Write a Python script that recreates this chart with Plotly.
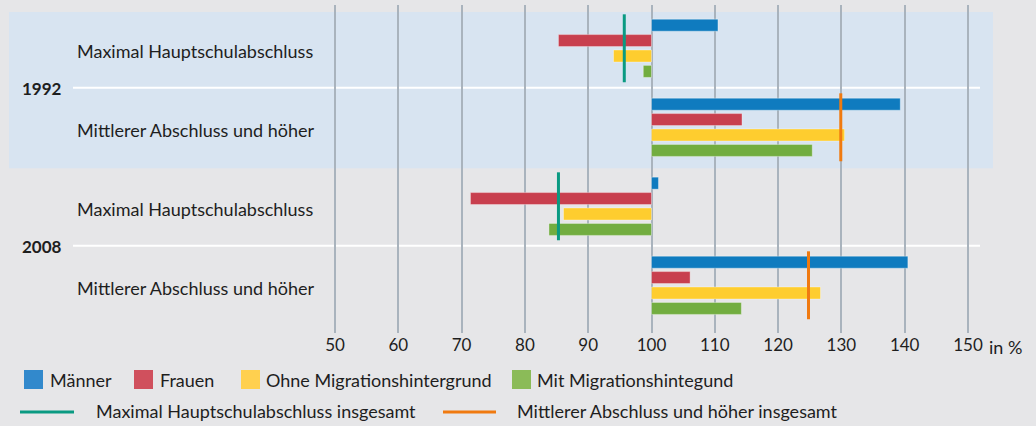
import plotly.graph_objects as go

# ---------------- data ----------------
categories = ["1992 Max", "1992 Mitt", "2008 Max", "2008 Mitt"]
category_labels = ["Maximal Hauptschulabschluss", "Mittlerer Abschluss und höher",
                   "Maximal Hauptschulabschluss", "Mittlerer Abschluss und höher"]
years = ["1992", "2008"]
series_names = ["Männer", "Frauen", "Ohne Migrationshintergrund", "Mit Migrationshintegund"]
maenner = [110.5, 139.3, 101.1, 140.5]
frauen = [85.3, 114.3, 71.4, 106.1]
ohne_migration = [94.0, 130.5, 86.1, 126.7]
mit_migration = [98.7, 125.4, 83.8, 114.2]
insgesamt_hauptschule = [95.7, 85.3]   # 1992, 2008
insgesamt_mittlerer = [129.9, 124.8]   # 1992, 2008
line_names = ["Maximal Hauptschulabschluss insgesamt", "Mittlerer Abschluss und höher insgesamt"]
x_ticks = [50, 60, 70, 80, 90, 100, 110, 120, 130, 140, 150]
baseline = 100

# ---------------- style ----------------
W, H = 1036, 426
PT, PB = 5, 333          # plot area top / bottom in px
FONT = "Lato"
TXT = "#1e1e1e"
BG = "#e6e6e8"
BAND = "#d8e4f1"
GRID = "#a9b3bd"
bar_colors = ["#0f7bbf", "#c83f4e", "#fecd2f", "#72ad40"]
legend_colors = ["#3289cc", "#d0505d", "#ffd04f", "#8bbb58"]
line_colors = ["#0a9a82", "#f07a10"]

def px_x(p):
    return p / W

def px_y(p):
    return (PB - p) / (PB - PT)

fig = go.Figure()
for name, vals, col in zip(series_names, [maenner, frauen, ohne_migration, mit_migration], bar_colors):
    fig.add_trace(go.Bar(
        y=categories, x=[v - baseline for v in vals], base=baseline,
        orientation="h", name=name, marker=dict(color=col, line=dict(color="rgba(255,255,255,0.35)", width=1)),
        showlegend=False,
    ))

shapes = []
# 1992 band
shapes.append(dict(type="rect", xref="paper", yref="y", x0=px_x(9), x1=px_x(993), y0=-0.46, y1=1.52,
                   fillcolor=BAND, line=dict(width=0), layer="below"))
# white separators
for yy in [0.5, 2.5]:
    shapes.append(dict(type="line", xref="paper", yref="y", x0=px_x(73), x1=px_x(980), y0=yy, y1=yy,
                       line=dict(color="white", width=2), layer="between"))
# insgesamt lines
for k, v in enumerate(insgesamt_hauptschule):
    idx = 2 * k
    shapes.append(dict(type="line", xref="x", yref="y", x0=v, x1=v, y0=idx - 0.43, y1=idx + 0.43,
                       line=dict(color=line_colors[0], width=3)))
for k, v in enumerate(insgesamt_mittlerer):
    idx = 2 * k + 1
    shapes.append(dict(type="line", xref="x", yref="y", x0=v, x1=v, y0=idx - 0.43, y1=idx + 0.43,
                       line=dict(color=line_colors[1], width=3)))

annotations = []
for i, lab in enumerate(category_labels):
    annotations.append(dict(xref="paper", yref="y", x=px_x(75), y=i, text=lab, showarrow=False,
                            xanchor="left", yanchor="middle", yshift=-3,
                            font=dict(family=FONT, size=18, color=TXT)))
for k, yr in enumerate(years):
    annotations.append(dict(xref="paper", yref="y", x=px_x(20), y=2 * k + 0.5, text="<b>%s</b>" % yr,
                            showarrow=False, xanchor="left", yanchor="middle", yshift=-1,
                            font=dict(family=FONT, size=17, color=TXT)))
annotations.append(dict(xref="paper", yref="paper", x=px_x(987), y=px_y(347), text="in %", showarrow=False,
                        xanchor="left", yanchor="middle", font=dict(family=FONT, size=18, color=TXT)))

# legend row 1
sq_x = [24, 134, 241, 512]
tx_x = [48, 158, 264, 535]
for name, col, sx, tx in zip(series_names, legend_colors, sq_x, tx_x):
    shapes.append(dict(type="rect", xref="paper", yref="paper", x0=px_x(sx), x1=px_x(sx + 19),
                       y0=px_y(370), y1=px_y(389), fillcolor=col, line=dict(width=0)))
    annotations.append(dict(xref="paper", yref="paper", x=px_x(tx), y=px_y(380), text=name, showarrow=False,
                            xanchor="left", yanchor="middle", font=dict(family=FONT, size=18, color=TXT)))
# legend row 2
ln_x = [(20, 74), (443, 496)]
ln_tx = [94, 515]
for name, col, (a, b), tx in zip(line_names, line_colors, ln_x, ln_tx):
    shapes.append(dict(type="line", xref="paper", yref="paper", x0=px_x(a), x1=px_x(b),
                       y0=px_y(412), y1=px_y(412), line=dict(color=col, width=3)))
    annotations.append(dict(xref="paper", yref="paper", x=px_x(tx), y=px_y(411), text=name, showarrow=False,
                            xanchor="left", yanchor="middle", font=dict(family=FONT, size=18, color=TXT)))

# x mapping: pixel = 651.5 + 6.33*(x-100)
x0_val = 100 + (0 - 651.5) / 6.33
x1_val = 100 + (W - 651.5) / 6.33

fig.update_layout(
    width=W, height=H,
    margin=dict(l=0, r=0, t=PT, b=H - PB, pad=0),
    paper_bgcolor=BG, plot_bgcolor="rgba(0,0,0,0)",
    barmode="group", bargap=0.22, bargroupgap=0.22,
    shapes=shapes, annotations=annotations,
    showlegend=False,
    xaxis=dict(range=[x0_val, x1_val], tickvals=x_ticks, ticktext=[str(t) for t in x_ticks],
               showgrid=True, gridcolor=GRID, gridwidth=1.5, zeroline=False, showline=False,
               ticks="", tickfont=dict(family=FONT, size=17, color=TXT), fixedrange=True),
    yaxis=dict(type="category", categoryorder="array", categoryarray=categories,
               range=[3.604, -0.548], autorange=False, showgrid=False, zeroline=False,
               showticklabels=False, showline=False, fixedrange=True),
    font=dict(family=FONT, color=TXT),
)

fig.write_html("out.html", config={"displayModeBar": False},
               post_script="document.body.style.margin='0';document.body.style.background='%s';" % BG)
